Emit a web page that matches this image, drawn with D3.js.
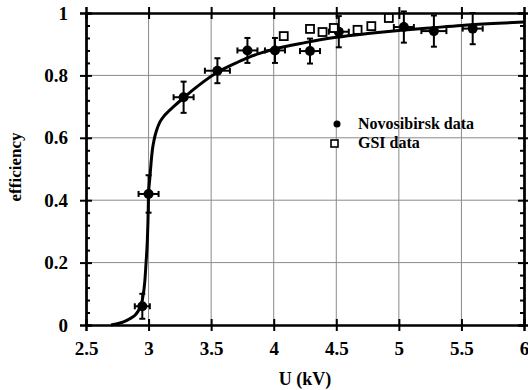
<!DOCTYPE html>
<html>
<head>
<meta charset="utf-8">
<script src="https://cdn.jsdelivr.net/npm/d3@7"></script>
<style>
  body { margin: 0; background: #fff; }
  svg { display: block; }
  text { font-family: "Liberation Serif", "DejaVu Serif", serif; font-weight: bold; fill: #000; }
</style>
</head>
<body>
<svg width="528" height="390"></svg>
<script>
// Novosibirsk data (filled circles, with error bars)
const novoU    = [2.95, 3.00, 3.28, 3.55, 3.79, 4.01, 4.29, 4.52, 5.04, 5.28, 5.59];
const novoEff  = [0.06, 0.42, 0.73, 0.815, 0.88, 0.88, 0.878, 0.94, 0.955, 0.942, 0.95];
const novoUErr = [0.06, 0.08, 0.08, 0.10, 0.08, 0.08, 0.08, 0.08, 0.08, 0.10, 0.08];
const novoEErr = [0.04, 0.06, 0.05, 0.04, 0.04, 0.04, 0.04, 0.05, 0.05, 0.05, 0.05];

// GSI data (open squares)
const gsiU   = [4.08, 4.29, 4.39, 4.48, 4.67, 4.78, 4.92];
const gsiEff = [0.926, 0.949, 0.939, 0.952, 0.946, 0.958, 0.984];

// fitted curve
const curveU   = [2.70, 2.75, 2.80, 2.85, 2.90, 2.93, 2.95, 2.97, 2.98, 2.99, 2.995, 3.00, 3.01, 3.02, 3.03, 3.045, 3.065, 3.09, 3.12, 3.16, 3.20, 3.28, 3.36, 3.44, 3.55, 3.70, 3.80, 3.90, 4.00, 4.25, 4.50, 4.75, 5.00, 5.25, 5.50, 5.75, 6.00];
const curveEff = [0.0, 0.004, 0.01, 0.02, 0.035, 0.055, 0.08, 0.14, 0.2, 0.27, 0.33, 0.42, 0.47, 0.52, 0.56, 0.595, 0.625, 0.65, 0.668, 0.685, 0.70, 0.728, 0.755, 0.78, 0.81, 0.84, 0.858, 0.872, 0.884, 0.905, 0.922, 0.934, 0.944, 0.952, 0.96, 0.966, 0.971];

const xTicks = [2.5, 3, 3.5, 4, 4.5, 5, 5.5, 6];
const xTickLabels = ["2.5", "3", "3.5", "4", "4.5", "5", "5.5", "6"];
const yTicks = [0, 0.2, 0.4, 0.6, 0.8, 1];
const yTickLabels = ["0", "0.2", "0.4", "0.6", "0.8", "1"];

const margin = { top: 13, right: 4, bottom: 65, left: 86 };
const W = 528, H = 390;
const width = W - margin.left - margin.right;
const height = H - margin.top - margin.bottom;

const svg = d3.select("svg");
const g = svg.append("g").attr("transform", `translate(${margin.left},${margin.top})`);

const x = d3.scaleLinear().domain([2.5, 6]).range([0, width]);
const y = d3.scaleLinear().domain([0, 1]).range([height, 0]);

// grid: thin grey lines (dashes did not come through in the render)
g.append("g").selectAll("line").data(xTicks.slice(1, -1)).enter().append("line")
  .attr("x1", d => x(d)).attr("x2", d => x(d))
  .attr("y1", 0).attr("y2", height)
  .attr("stroke", "#8a8a8a").attr("stroke-width", 1);
g.append("g").selectAll("line").data(yTicks.slice(1, -1)).enter().append("line")
  .attr("y1", d => y(d)).attr("y2", d => y(d))
  .attr("x1", 0).attr("x2", width)
  .attr("stroke", "#8a8a8a").attr("stroke-width", 1);

// axes: ticks crossing the frame on all four sides
const tickLen = 6;
const axB = d3.axisBottom(x).tickValues(xTicks).tickSize(tickLen).tickFormat((d, i) => xTickLabels[i]);
const axT = d3.axisTop(x).tickValues(xTicks).tickSize(tickLen).tickFormat("");
const axL = d3.axisLeft(y).tickValues(yTicks).tickSize(tickLen).tickFormat((d, i) => yTickLabels[i]);
const axR = d3.axisRight(y).tickValues(yTicks).tickSize(tickLen).tickFormat("");
const minorY = d3.range(0, 1.0001, 0.04).filter(v => Math.abs(v * 5 - Math.round(v * 5)) > 1e-6);
const axLm = d3.axisRight(y).tickValues(minorY).tickSize(4).tickFormat("");
const axRm = d3.axisLeft(y).tickValues(minorY).tickSize(4).tickFormat("");
// inner ticks
const axBi = d3.axisTop(x).tickValues(xTicks).tickSize(tickLen).tickFormat("");
const axTi = d3.axisBottom(x).tickValues(xTicks).tickSize(tickLen).tickFormat("");
const axLi = d3.axisRight(y).tickValues(yTicks).tickSize(tickLen).tickFormat("");
const axRi = d3.axisLeft(y).tickValues(yTicks).tickSize(tickLen).tickFormat("");

function styleAxis(sel) {
  sel.selectAll("path").attr("stroke", "#000").attr("stroke-width", 2);
  sel.selectAll("line").attr("stroke", "#000").attr("stroke-width", 2);
  sel.selectAll("text").attr("font-family", null).attr("font-size", 19).attr("font-weight", "bold");
}

const bx = g.append("g").attr("transform", `translate(0,${height})`).call(axB).call(styleAxis);
bx.selectAll("text").attr("y", 17).attr("dy", "0.71em");
g.append("g").attr("transform", `translate(0,${height})`).call(axBi).call(styleAxis);
g.append("g").call(axT).call(styleAxis);
g.append("g").call(axTi).call(styleAxis);
const lx = g.append("g").call(axL).call(styleAxis);
lx.selectAll("text").attr("x", -18);
g.append("g").call(axLi).call(styleAxis);
g.append("g").call(axLm).call(styleAxis);
g.append("g").attr("transform", `translate(${width},0)`).call(axR).call(styleAxis);
g.append("g").attr("transform", `translate(${width},0)`).call(axRi).call(styleAxis);
g.append("g").attr("transform", `translate(${width},0)`).call(axRm).call(styleAxis);

// curve
const curve = curveU.map((u, i) => [u, curveEff[i]]);
g.append("path").datum(curve)
  .attr("fill", "none").attr("stroke", "#000").attr("stroke-width", 3)
  .attr("d", d3.line().x(d => x(d[0])).y(d => y(d[1])).curve(d3.curveMonotoneX));

// Novosibirsk points with error bars
const novo = novoU.map((u, i) => ({ u, e: novoEff[i], du: novoUErr[i], de: novoEErr[i] }));
const cap = 3;
const eb = g.append("g").attr("stroke", "#000").attr("stroke-width", 2);
novo.forEach(d => {
  eb.append("line").attr("x1", x(d.u - d.du)).attr("x2", x(d.u + d.du)).attr("y1", y(d.e)).attr("y2", y(d.e));
  eb.append("line").attr("x1", x(d.u)).attr("x2", x(d.u)).attr("y1", y(d.e - d.de)).attr("y2", y(d.e + d.de));
  eb.append("line").attr("x1", x(d.u - d.du)).attr("x2", x(d.u - d.du)).attr("y1", y(d.e) - cap).attr("y2", y(d.e) + cap);
  eb.append("line").attr("x1", x(d.u + d.du)).attr("x2", x(d.u + d.du)).attr("y1", y(d.e) - cap).attr("y2", y(d.e) + cap);
  eb.append("line").attr("x1", x(d.u) - cap).attr("x2", x(d.u) + cap).attr("y1", y(d.e - d.de)).attr("y2", y(d.e - d.de));
  eb.append("line").attr("x1", x(d.u) - cap).attr("x2", x(d.u) + cap).attr("y1", y(d.e + d.de)).attr("y2", y(d.e + d.de));
});
g.append("g").selectAll("circle").data(novo).enter().append("circle")
  .attr("cx", d => x(d.u)).attr("cy", d => y(d.e)).attr("r", 5).attr("fill", "#000");

// GSI squares
const gsi = gsiU.map((u, i) => ({ u, e: gsiEff[i] }));
const sq = 8;
g.append("g").selectAll("rect").data(gsi).enter().append("rect")
  .attr("x", d => x(d.u) - sq / 2).attr("y", d => y(d.e) - sq / 2)
  .attr("width", sq).attr("height", sq)
  .attr("fill", "#fff").attr("stroke", "#000").attr("stroke-width", 1.8);

// legend
const lg = svg.append("g");
lg.append("circle").attr("cx", 337).attr("cy", 124).attr("r", 3.5).attr("fill", "#000");
lg.append("text").attr("x", 358).attr("y", 129).attr("font-size", 16).text("Novosibirsk data");
lg.append("rect").attr("x", 331).attr("y", 140).attr("width", 7).attr("height", 7)
  .attr("fill", "#fff").attr("stroke", "#000").attr("stroke-width", 1.6);
lg.append("text").attr("x", 358).attr("y", 148).attr("font-size", 16).text("GSI data");

// axis titles
svg.append("text").attr("x", 305).attr("y", 385).attr("text-anchor", "middle")
  .attr("font-size", 18).text("U (kV)");
svg.append("text").attr("transform", "translate(21,167) rotate(-90)").attr("text-anchor", "middle")
  .attr("font-size", 17).text("efficiency");
</script>
</body>
</html>
